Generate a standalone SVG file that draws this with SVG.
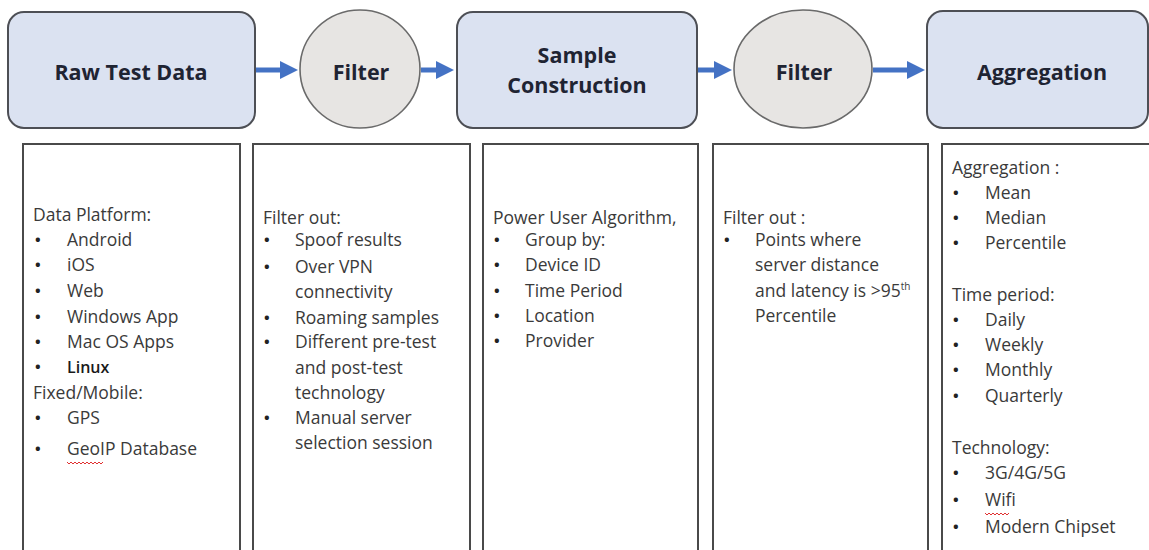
<svg xmlns="http://www.w3.org/2000/svg" width="1149" height="550" viewBox="0 0 1149 550">
<style>
.stage{fill:#dbe2f1;stroke:#4d4f55;stroke-width:2}
.filt{fill:#e7e5e3;stroke:#6a6a6a;stroke-width:1.6}
.title{font-family:"Open Sans","Noto Sans",sans-serif;font-weight:700;font-size:21.5px;fill:#1f2433;text-anchor:middle}
.panel{fill:#ffffff;stroke:#4a4a4a;stroke-width:2}
.t{font-family:"Open Sans","Noto Sans",sans-serif;font-size:17.5px;fill:#3a3a3a}
.b{font-family:"Open Sans","Noto Sans",sans-serif;font-size:15px;font-weight:700;fill:#222}
.conn{stroke:#4472c4;stroke-width:5;fill:none}
.head{fill:#4472c4}
.sq{fill:none;stroke:#e03030;stroke-width:1}
</style>
<rect width="1149" height="550" fill="#ffffff"/>

<g id="raw-test-data">
<rect class="stage" x="8" y="12" width="247" height="116" rx="16"/>
<text class="title" x="131" y="80">Raw Test Data</text>
</g>
<g id="filter-1">
<ellipse class="filt" cx="360" cy="69" rx="60" ry="59"/>
<text class="title" x="361" y="80">Filter</text>
</g>
<g id="sample-construction">
<rect class="stage" x="457" y="12" width="240" height="116" rx="16"/>
<text class="title" x="577" y="63">Sample</text>
<text class="title" x="577" y="93">Construction</text>
</g>
<g id="filter-2">
<ellipse class="filt" cx="803" cy="69" rx="69" ry="59"/>
<text class="title" x="804" y="80">Filter</text>
</g>
<g id="aggregation">
<rect class="stage" x="927" y="11" width="221" height="117" rx="16"/>
<text class="title" x="1042" y="80">Aggregation</text>
</g>

<g id="connectors">
<line class="conn" x1="256" y1="70" x2="282" y2="70"/>
<polygon class="head" points="280,61 298,70 280,79"/>
<line class="conn" x1="421" y1="70" x2="438" y2="70"/>
<polygon class="head" points="436,61 454,70 436,79"/>
<line class="conn" x1="698" y1="70" x2="716" y2="70"/>
<polygon class="head" points="714,61 732,70 714,79"/>
<line class="conn" x1="873" y1="70" x2="909" y2="70"/>
<polygon class="head" points="907,61 925,70 907,79"/>
</g>

<g id="panel-raw">
<rect class="panel" x="23" y="144" width="217" height="420"/>
<text class="t" x="33" y="221">Data Platform:</text>
<g class="b"><text x="35" y="245">•</text><text x="35" y="270">•</text><text x="35" y="296">•</text><text x="35" y="322">•</text><text x="35" y="347">•</text><text x="35" y="372">•</text><text x="35" y="423">•</text><text x="35" y="454">•</text></g>
<text class="t" x="67" y="246">Android</text>
<text class="t" x="67" y="271">iOS</text>
<text class="t" x="67" y="297">Web</text>
<text class="t" x="67" y="323">Windows App</text>
<text class="t" x="67" y="348">Mac OS Apps</text>
<text x="67" y="373" style="font-family:'Open Sans','Noto Sans',sans-serif;font-weight:600;fill:#1a1a1a;font-size:16px">Linux</text>
<text class="t" x="33" y="399">Fixed/Mobile:</text>
<text class="t" x="67" y="424">GPS</text>
<text class="t" x="67" y="455">GeoIP Database</text>
<path class="sq" d="M67 462 l2 2 l2 -2 l2 2 l2 -2 l2 2 l2 -2 l2 2 l2 -2 l2 2 l2 -2 l2 2 l2 -2 l2 2 l2 -2 l2 2 l2 -2 l2 2 l2 -2"/>
</g>

<g id="panel-filter-1">
<rect class="panel" x="253" y="144" width="217" height="420"/>
<text class="t" x="263" y="224">Filter out:</text>
<g class="b"><text x="264" y="245">•</text><text x="264" y="272">•</text><text x="264" y="323">•</text><text x="264" y="347">•</text><text x="264" y="423">•</text></g>
<text class="t" x="295" y="246">Spoof results</text>
<text class="t" x="295" y="273">Over VPN</text>
<text class="t" x="295" y="298">connectivity</text>
<text class="t" x="295" y="324">Roaming samples</text>
<text class="t" x="295" y="348">Different pre-test</text>
<text class="t" x="295" y="374">and post-test</text>
<text class="t" x="295" y="399">technology</text>
<text class="t" x="295" y="424">Manual server</text>
<text class="t" x="295" y="449">selection session</text>
</g>

<g id="panel-sample">
<rect class="panel" x="483" y="144" width="215" height="420"/>
<text class="t" x="493" y="224">Power User Algorithm,</text>
<g class="b"><text x="494" y="245">•</text><text x="494" y="270">•</text><text x="494" y="296">•</text><text x="494" y="321">•</text><text x="494" y="346">•</text></g>
<text class="t" x="525" y="246">Group by:</text>
<text class="t" x="525" y="271">Device ID</text>
<text class="t" x="525" y="297">Time Period</text>
<text class="t" x="525" y="322">Location</text>
<text class="t" x="525" y="347">Provider</text>
</g>

<g id="panel-filter-2">
<rect class="panel" x="713" y="144" width="215" height="420"/>
<text class="t" x="723" y="224">Filter out :</text>
<g class="b"><text x="724" y="245">•</text></g>
<text class="t" x="755" y="246">Points where</text>
<text class="t" x="755" y="271">server distance</text>
<text class="t" x="755" y="297">and latency is &gt;95<tspan font-size="10" dy="-7">th</tspan></text>
<text class="t" x="755" y="322">Percentile</text>
</g>

<g id="panel-aggregation">
<rect class="panel" x="942" y="144" width="220" height="420"/>
<text class="t" x="952" y="174">Aggregation :</text>
<g class="b"><text x="953" y="198">•</text><text x="953" y="223">•</text><text x="953" y="248">•</text><text x="953" y="325">•</text><text x="953" y="350">•</text><text x="953" y="375">•</text><text x="953" y="401">•</text><text x="953" y="478">•</text><text x="953" y="505">•</text><text x="953" y="532">•</text></g>
<text class="t" x="985" y="199">Mean</text>
<text class="t" x="985" y="224">Median</text>
<text class="t" x="985" y="249">Percentile</text>
<text class="t" x="952" y="301">Time period:</text>
<text class="t" x="985" y="326">Daily</text>
<text class="t" x="985" y="351">Weekly</text>
<text class="t" x="985" y="376">Monthly</text>
<text class="t" x="985" y="402">Quarterly</text>
<text class="t" x="952" y="454">Technology:</text>
<text class="t" x="985" y="479">3G/4G/5G</text>
<text class="t" x="985" y="506">Wifi</text>
<path class="sq" d="M985 513 l2 2 l2 -2 l2 2 l2 -2 l2 2 l2 -2 l2 2 l2 -2 l2 2 l2 -2 l2 2 l2 -2"/>
<text class="t" x="985" y="533">Modern Chipset</text>
</g>
</svg>
